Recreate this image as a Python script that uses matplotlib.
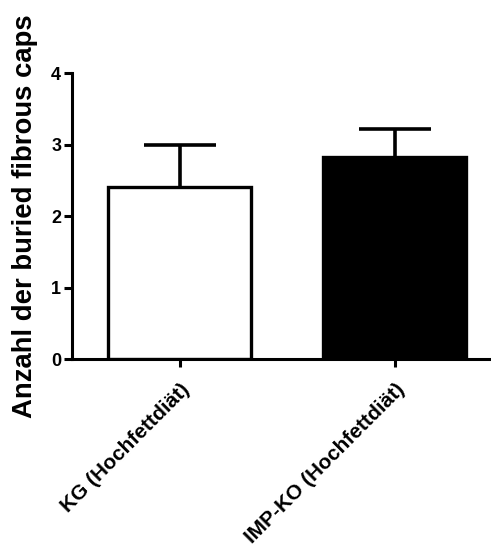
import matplotlib
matplotlib.use("Agg")
import matplotlib.pyplot as plt

groups = ["KG (Hochfettdiät)", "IMP-KO (Hochfettdiät)"]
means = [2.41, 2.83]
sem = [0.59, 0.39]
fills = ["white", "black"]
yticks = [0, 1, 2, 3, 4]

plt.rcParams["font.family"] = ["Liberation Sans", "DejaVu Sans"]
plt.rcParams["font.weight"] = "bold"

fig = plt.figure(figsize=(4.91, 5.48), dpi=100)
ax = fig.add_axes([72 / 491, 188.7 / 548, 1 - 72 / 491, 286 / 548])

x = list(range(len(groups)))
_, caps, _ = ax.errorbar(x, means, yerr=[[0] * len(sem), sem], fmt="none", ecolor="black",
                         elinewidth=2.6, capsize=26, capthick=2.6, zorder=1)
# only the upper whisker gets a cap
for cl in caps:
    if list(cl.get_ydata()) == list(means):
        cl.set_visible(False)
ax.bar(x, means, width=0.665, color=fills, edgecolor="black", linewidth=2.4, zorder=2)

ax.set_xlim(-0.502, 1.447)
ax.set_ylim(0, 4)
ax.set_yticks(yticks)
ax.set_yticklabels([str(t) for t in yticks], fontsize=13, fontweight="bold")
ax.set_xticks(x)
ax.set_xticklabels(groups, rotation=45, ha="right", va="top", rotation_mode="anchor",
                   fontsize=15, fontweight="bold")
ax.set_ylabel("Anzahl der buried fibrous caps", fontsize=19.8, fontweight="bold")
ax.yaxis.set_label_coords(-0.081, 0.5)

for side in ["top", "right"]:
    ax.spines[side].set_visible(False)
for side in ["left", "bottom"]:
    ax.spines[side].set_linewidth(2.2)
ax.tick_params(axis="both", width=2.2, length=5.8)
ax.tick_params(axis="y", pad=2)
ax.tick_params(axis="x", pad=9)

fig.savefig("out.png", dpi=100)
